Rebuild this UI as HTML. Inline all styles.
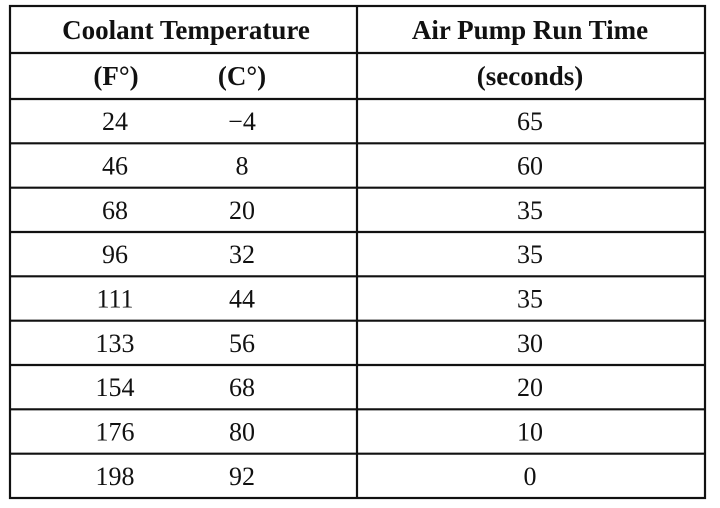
<!DOCTYPE html>
<html><head><meta charset="utf-8"><style>
html,body{margin:0;padding:0;background:#fff;}
svg{display:block;}
text{font-family:"Liberation Serif",serif;font-size:26px;fill:#111;text-anchor:middle;}
.b{font-weight:bold;font-size:27px;}
</style></head><body>
<svg width="720" height="508" viewBox="0 0 720 508">
<g stroke="#111" stroke-width="2.2" fill="none">
<rect x="10" y="6" width="695" height="492"/>
<line x1="357" y1="6" x2="357" y2="498"/>
<g id="hlines"></g>
</g>
<text class="b" x="186" y="39">Coolant Temperature</text>
<text class="b" x="530" y="39">Air Pump Run Time</text>
<text class="b" x="116" y="85">(F°)</text>
<text class="b" x="242" y="85">(C°)</text>
<text class="b" x="530" y="85">(seconds)</text>
<g id="rows"></g>
</svg>
<script>
const fahrenheit=["24","46","68","96","111","133","154","176","198"];
const celsius=["\u22124","8","20","32","44","56","68","80","92"];
const seconds=["65","60","35","35","35","30","20","10","0"];
const NS="http://www.w3.org/2000/svg";
const hl=document.getElementById('hlines');
const rows=document.getElementById('rows');
const top0=99,rh=(498-99)/fahrenheit.length;
[53,99].forEach(y=>{const l=document.createElementNS(NS,'line');l.setAttribute('x1',10);l.setAttribute('x2',705);l.setAttribute('y1',y);l.setAttribute('y2',y);


hl.appendChild(l);});
for(let i=0;i<fahrenheit.length;i++){
  if(i>0){const l=document.createElementNS(NS,'line');const y=top0+i*rh;l.setAttribute('x1',10);l.setAttribute('x2',705);l.setAttribute('y1',y);l.setAttribute('y2',y);
  
  
  hl.appendChild(l);}
  const cy=top0+i*rh+rh/2+9;
  [[115,fahrenheit[i],'cell-fahrenheit'],[242,celsius[i],'cell-celsius'],[530,seconds[i],'cell-seconds']].forEach(c=>{
    const t=document.createElementNS(NS,'text');t.setAttribute('x',c[0]);t.setAttribute('y',cy);t.textContent=c[1];
    
    
    rows.appendChild(t);
  });
}
</script>
</body></html>
